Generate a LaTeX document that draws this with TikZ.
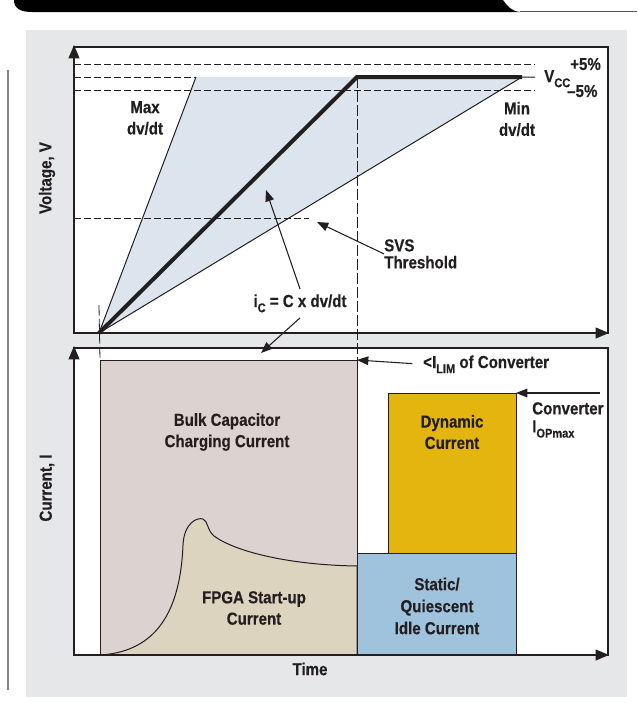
\documentclass[tikz,border=0pt]{standalone}
\usepackage{fontspec}
\setmainfont{Liberation Sans}[FakeStretch=0.87, BoldFeatures={FakeBold=0.4}]
\usepackage{xcolor}
\usetikzlibrary{arrows.meta, calc, positioning}

\definecolor{panelgray}{HTML}{E6E7E8}
\definecolor{ink}{HTML}{231F20}
\definecolor{rampblue}{HTML}{DCE5ED}
\definecolor{bulkbrown}{HTML}{DCD3D0}
\definecolor{fpgatan}{HTML}{DCD4BF}
\definecolor{dynyellow}{HTML}{E5B50F}
\definecolor{staticblue}{HTML}{9FC3DC}

\newcommand{\lowsub}[1]{\raisebox{-0.3em}{\fontsize{9.5}{9.5}\selectfont #1}}

\tikzset{
    lbl/.style={font=\fontsize{13}{16}\selectfont\bfseries, text=ink, align=center, inner sep=0pt},
    axis/.style={draw=ink, line width=1.4pt, -{Triangle[length=10pt, width=8pt]}},
    frame/.style={draw=ink, line width=0.8pt},
    guide/.style={draw=ink, line width=0.6pt, dash pattern=on 5.25pt off 2.25pt},
    vguide/.style={draw=ink, line width=0.6pt, dash pattern=on 8pt off 2.5pt},
    pointer/.style={draw=ink, line width=0.8pt, -{Triangle[length=8.5pt, width=6.5pt]}},
}

\begin{document}
\begin{tikzpicture}[x=0.75pt, y=-0.75pt]
    \useasboundingbox (0,0) rectangle (637,711);

    % page header, margin rule, panel
    \fill[black] (14,0) .. controls (14,8) and (20,12) .. (32,12) -- (520,12)
        .. controls (511,11) and (507,6) .. (503,0) -- cycle;
    \draw[ink!75, line width=0.8pt] (520,11.6) -- (637,11.6);
    \draw[ink!55, line width=0.8pt] (8,70) -- (8,690);
    \fill[panelgray] (26,30) rectangle (627,697);

    % voltage plot
    \coordinate (vO) at (74,333);
    \coordinate (vTop) at (74,45);
    \coordinate (vEnd) at (609,333);
    \coordinate (r0) at (99,333);
    \coordinate (rMax) at (196,77);
    \coordinate (rKnee) at (357,77);
    \coordinate (rMin) at (522,77);
    \coordinate (vccTick) at (535,77);
    \coordinate (svsTip) at (317,222);
    \coordinate (rampTip) at (266,190);

    \filldraw[frame, fill=white] (vO) rectangle (608,47);
    \fill[rampblue] (r0) -- (rMax) -- (rMin) -- cycle;
    \draw[guide] (74,64) -- (535,64);
    \draw[guide] (74,77) -- (rMax);
    \draw[guide] (74,90) -- (535,90);
    \draw[guide] (74,218) -- (309,218);
    \draw[ink, line width=0.75pt] (r0) -- (rMax);
    \draw[ink, line width=0.75pt] (r0) -- (rMin) -- (vccTick);
    \draw[ink, line width=3pt] (r0) -- (rKnee) -- (rMin);

    % current plot
    \coordinate (iO) at (74,655);
    \coordinate (iTop) at (74,346);
    \coordinate (iEnd) at (609,655);
    \coordinate (bulkNW) at (100,360);
    \coordinate (bulkNE) at (357,360);
    \coordinate (dynNE) at (516,393);
    \coordinate (opmaxTail) at (600,393);
    \coordinate (icTip) at (261,353);

    \filldraw[frame, fill=white] (iO) rectangle (608,348);
    \filldraw[frame, line width=0.75pt, fill=bulkbrown] (100,655) rectangle (bulkNE);
    \filldraw[frame, line width=0.75pt, fill=fpgatan] (100,655)
        .. controls (150,652) and (180,620) .. (183,545)
        .. controls (184,523) and (197,517) .. (203,519)
        .. controls (208,521) and (207,530) .. (214,536)
        .. controls (236,552) and (290,565) .. (357,566) -- (357,655) -- cycle;
    \filldraw[frame, line width=0.75pt, fill=staticblue] (357,655) rectangle (516,553);
    \filldraw[frame, line width=0.75pt, fill=dynyellow] (388,553) rectangle (dynNE);

    % time markers between the plots
    \draw[vguide] (rKnee) -- (bulkNE);
    \draw[vguide] (99,305) -- (bulkNW);

    \draw[axis] (vO) -- (vTop);
    \draw[axis] (vO) -- (vEnd);
    \draw[axis] (iO) -- (iTop);
    \draw[axis] (iO) -- (iEnd);

    % labels
    \node[lbl, rotate=90] (voltAxis) at (47,178) {Voltage, V};
    \node[lbl, rotate=90] (currAxis) at (47,488) {Current, I};
    \node[lbl] (timeAxis) at (310,669) {Time};

    \node[lbl] (maxRate) at (145,118) {Max\\dv/dt};
    \node[lbl] (minRate) at (517,119) {Min\\dv/dt};
    \node[lbl, anchor=base west] (vcc) at (544,82) {V\lowsub{CC}};
    \node[lbl, anchor=base west] (plus5) at (570,70) {+5\%};
    \node[lbl, anchor=base west] (minus5) at (567,97) {--5\%};
    \node[lbl, align=left, anchor=north west, font=\fontsize{13}{12.75}\selectfont\bfseries]
        (svs) at (384,239) {SVS\\Threshold};
    \node[lbl, anchor=base, inner sep=4pt] (ic) at (300,307) {i\lowsub{C} = C x dv/dt};
    \node[lbl, anchor=base west] (ilim) at (423,368) {<I\lowsub{LIM} of Converter};
    \node[lbl, align=left, anchor=north west, font=\fontsize{13}{13.5}\selectfont\bfseries]
        (opmax) at (532,402) {Converter\\I\lowsub{OPmax}};

    \node[lbl] (bulkText) at (227,432) {Bulk Capacitor\\Charging Current};
    \node[lbl] (fpgaText) at (254,608) {FPGA Start-up\\Current};
    \node[lbl] (dynText) at (452,432) {Dynamic\\Current};
    \node[lbl, font=\fontsize{13}{16.5}\selectfont\bfseries] (staticText) at (437,606)
        {Static/\\Quiescent\\Idle Current};

    % pointers
    \draw[pointer] (svs.west) -- (svsTip);
    \draw[pointer] (ic.north) -- (rampTip);
    \draw[pointer] (ic.south) -- (icTip);
    \draw[pointer, shorten <=8pt] (ilim.west) -- (bulkNE);
    \draw[pointer] (opmaxTail) -- (dynNE);
\end{tikzpicture}
\end{document}
